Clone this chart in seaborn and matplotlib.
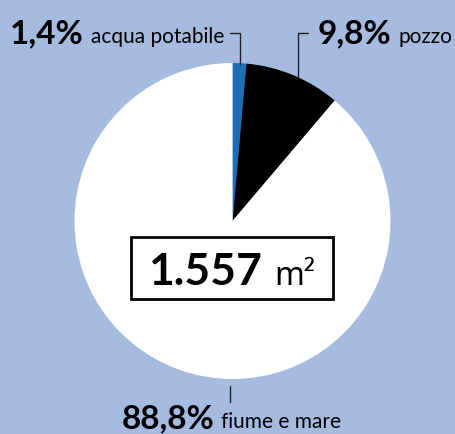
import matplotlib
matplotlib.use("Agg")
import matplotlib.pyplot as plt
import seaborn as sns
from matplotlib.patches import Rectangle

categories = ["acqua potabile", "pozzo", "fiume e mare"]
values = [1.4, 9.8, 88.8]
pct_labels = ["1,4%", "9,8%", "88,8%"]
total_label = "1.557"
unit_label = "m²"

sns.set_style("white")
plt.rcParams['font.family'] = ['Lato', 'DejaVu Sans']
plt.rcParams['text.color'] = 'black'

BG = "#a6bbe0"
colors = ["#1c6fb6", "#000000", "#ffffff"]

W, H = 456, 435
fig = plt.figure(figsize=(W / 100, H / 100), dpi=100, facecolor=BG)
ax = fig.add_axes([0, 0, 1, 1])
ax.set_facecolor(BG)

cx, cy, r = 232.5, H - 222, 158
ax.pie(values, colors=colors, startangle=90, counterclock=False,
       center=(cx, cy), radius=r, wedgeprops=dict(linewidth=0),
       frame=True)
ax.set_xlim(0, W)
ax.set_ylim(0, H)
ax.set_aspect("equal")
ax.axis("off")

def Y(y):
    return H - y

# leader lines
ax.plot([230, 240, 240], [Y(34), Y(34), Y(65)], color="#222222", lw=1)
ax.plot([308, 298, 298], [Y(34), Y(34), Y(78)], color="#222222", lw=1)
ax.plot([230, 230], [Y(387), Y(403)], color="#222222", lw=1)

big = 24
small = 15
renderer = fig.canvas.get_renderer()

def right_edge(t):
    ext = t.get_window_extent(renderer)
    return ax.transData.inverted().transform((ext.x1, 0))[0]

def pair(x, y, pct, cat, gap, bsize=big, ssize=small, z=3, sfam=None):
    t = ax.text(x, Y(y), pct, fontsize=bsize, fontweight="bold", ha="left", va="baseline", zorder=z)
    kw = {} if sfam is None else {"family": sfam}
    return ax.text(right_edge(t) + gap, Y(y), cat, fontsize=ssize, ha="left", va="baseline", zorder=z, **kw)

pair(10, 43, pct_labels[0], categories[0], 7)
pair(318, 43, pct_labels[1], categories[1], 7)
pair(122, 428, pct_labels[2], categories[2], 6)

# central box
ax.add_patch(Rectangle((131, Y(300)), 202, 62, facecolor="white", edgecolor="black", lw=2, zorder=5))
pair(148, 285, total_label, unit_label, 12, bsize=32, ssize=23, z=6, sfam=["Noto Sans", "DejaVu Sans"])

fig.savefig("out.png", dpi=100, facecolor=BG)
